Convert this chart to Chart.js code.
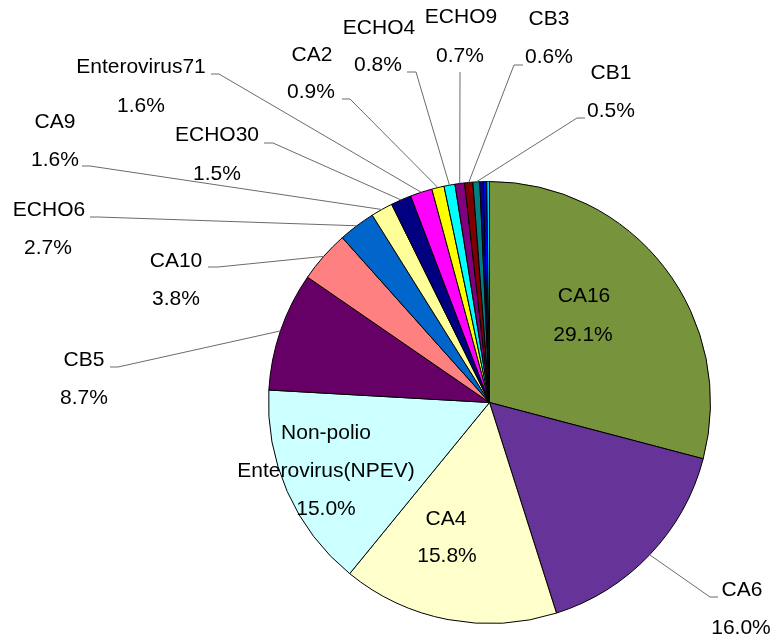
<!DOCTYPE html>
<html>
<head>
<meta charset="utf-8">
<script src="https://cdn.jsdelivr.net/npm/chart.js@4.4.1/dist/chart.umd.min.js"></script>
<style>
  html, body { margin: 0; padding: 0; background: #fff; }
  #wrap { width: 774px; height: 640px; position: relative; }
</style>
</head>
<body>
<div id="wrap"><canvas id="pieChart"></canvas></div>
<script>
// Categorias e percentuais (sentido horário a partir das 12h)
const categories = ['CA16', 'CA6', 'CA4', 'Non-polio\nEnterovirus(NPEV)', 'CB5', 'CA10', 'ECHO6', 'CA9',
                    'ECHO30', 'Enterovirus71', 'CA2', 'ECHO4', 'ECHO9', 'CB3', 'CB1', '', '', ''];
const shares = [29.1, 16.0, 15.8, 15.0, 8.7, 3.8, 2.7, 1.6, 1.5, 1.6, 0.9, 0.8, 0.7, 0.6, 0.5, 0.25, 0.25, 0.2];
const sliceColors = ['#77933C', '#663399', '#FFFFCC', '#CCFFFF', '#660066', '#FF8080', '#0066CC', '#FFFF99',
                     '#000080', '#FF00FF', '#FFFF00', '#00FFFF', '#800080', '#800000', '#008080',
                     '#000099', '#0000FF', '#00CCFF'];

// Posição dos rótulos (estilo): t = centros das linhas de texto, line = [cotoveloX, cotoveloY, pontaX]
const labelLayout = [
    { t: [[584, 296], [583, 335]] },
    { t: [[742, 590], [741, 628]], line: [710, 597, 718] },
    { t: [[446, 519], [447, 556]] },
    { t: [[326, 433], [326, 471], [326, 509]] },
    { t: [[84, 360], [84, 398]], line: [118, 367, 110] },
    { t: [[176, 261], [176, 299]], line: [218, 267, 208] },
    { t: [[49, 210], [48, 248]], line: [98, 217, 90] },
    { t: [[55, 122], [55, 160]], line: [90, 166, 82] },
    { t: [[217, 135], [217, 174]], line: [273, 143, 264] },
    { t: [[141, 67], [141, 106]], line: [219, 74, 211] },
    { t: [[312, 55], [311, 92]], line: [350, 99, 342] },
    { t: [[379, 28], [378, 65]], line: [416, 72, 407] },
    { t: [[461, 17], [460, 56]], line: [460, 72, 460] },
    { t: [[549, 19], [549, 57]], line: [514, 65, 523] },
    { t: [[611, 73], [611, 111]], line: [577, 118, 585] }
];

// Plugin simples para desenhar linhas de chamada e rótulos estilo Excel
const excelLabels = {
    id: 'excelLabels',
    afterDatasetsDraw(chart) {
        const ctx = chart.ctx;
        const arcs = chart.getDatasetMeta(0).data;
        ctx.save();
        arcs.forEach((arc, i) => {
            const lay = labelLayout[i];
            if (!lay) return;
            const p = arc.getProps(['x', 'y', 'startAngle', 'endAngle', 'outerRadius'], true);
            if (lay.line) {
                const mid = (p.startAngle + p.endAngle) / 2;
                const ex = p.x + Math.cos(mid) * p.outerRadius;
                const ey = p.y + Math.sin(mid) * p.outerRadius;
                ctx.strokeStyle = '#6b6b6b';
                ctx.lineWidth = 1;
                ctx.beginPath();
                ctx.moveTo(ex, ey);
                ctx.lineTo(lay.line[0], lay.line[1]);
                ctx.lineTo(lay.line[2], lay.line[1]);
                ctx.stroke();
            }
            const lines = categories[i].split('\n').concat([shares[i].toFixed(1) + '%']);
            ctx.fillStyle = '#000';
            ctx.font = '21px "Liberation Sans", Arial, sans-serif';
            ctx.textAlign = 'center';
            ctx.textBaseline = 'middle';
            lines.forEach((txt, k) => {
                ctx.fillText(txt, lay.t[k][0], lay.t[k][1]);
            });
        });
        ctx.restore();
    }
};

new Chart(document.getElementById('pieChart').getContext('2d'), {
    type: 'pie',
    data: {
        labels: categories,
        datasets: [{
            data: shares,
            backgroundColor: sliceColors,
            borderColor: '#000',
            borderWidth: 1
        }]
    },
    options: {
        responsive: true,
        maintainAspectRatio: false,
        animation: false,
        layout: { padding: { left: 268, right: 63, top: 181, bottom: 16 } },
        plugins: { legend: { display: false }, tooltip: { enabled: false } }
    },
    plugins: [excelLabels]
});
</script>
</body>
</html>
